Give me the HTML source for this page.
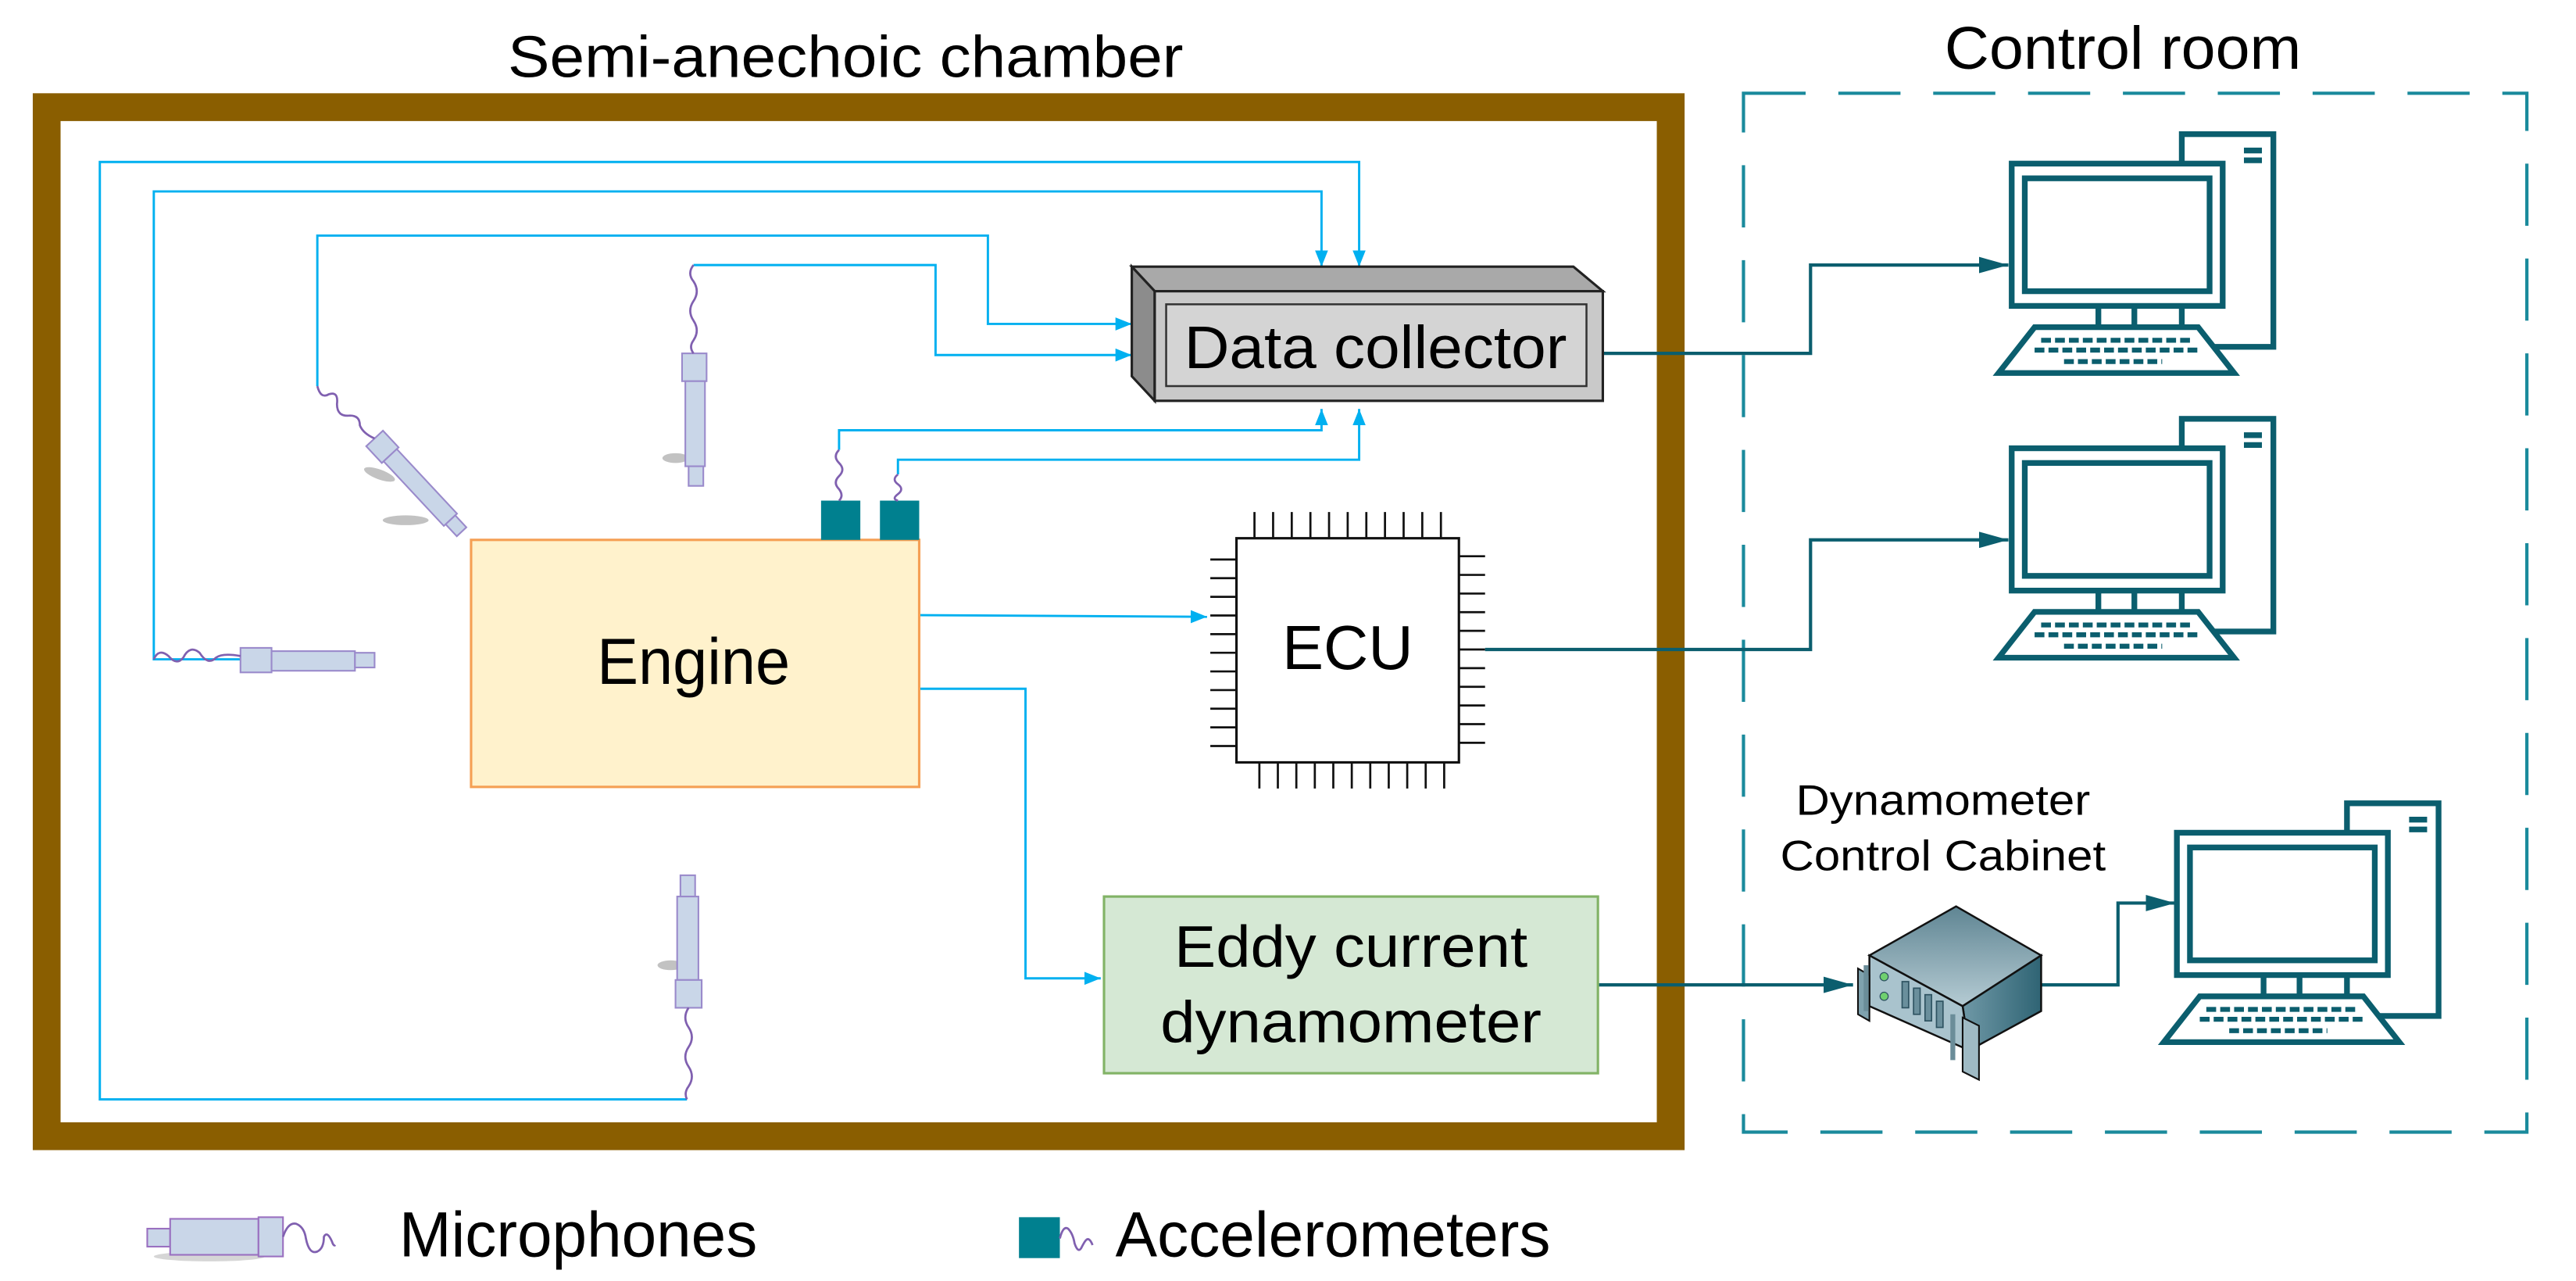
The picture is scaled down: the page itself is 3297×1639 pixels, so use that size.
<!DOCTYPE html>
<html><head><meta charset="utf-8"><style>
html,body{margin:0;padding:0;background:#fff;width:3297px;height:1639px;overflow:hidden}
svg{display:block}
text{font-family:"Liberation Sans",Arial,sans-serif;fill:#000}
</style></head><body>
<svg width="3297" height="1639" viewBox="0 0 1575 783" xmlns="http://www.w3.org/2000/svg">
<defs>
<marker id="ac" viewBox="0 0 10 8" refX="10" refY="4" markerWidth="10" markerHeight="8" markerUnits="userSpaceOnUse" orient="auto"><path d="M0 0L10 4L0 8z" fill="#00b0f0"/></marker>
<marker id="at" viewBox="0 0 18 10" refX="18" refY="5" markerWidth="18" markerHeight="10" markerUnits="userSpaceOnUse" orient="auto"><path d="M0 0L18 5L0 10z" fill="#0b5e6e"/></marker>
<linearGradient id="gtop" x1="0" y1="0" x2="0" y2="1"><stop offset="0" stop-color="#5f8593"/><stop offset="1" stop-color="#b5cbd3"/></linearGradient>
<linearGradient id="gright" x1="0" y1="0" x2="1" y2="0"><stop offset="0" stop-color="#6f98a6"/><stop offset="1" stop-color="#2f6474"/></linearGradient>
<g id="pc" fill="none" stroke="#0b5e6e" stroke-width="3.5">
<rect x="1334" y="82" width="56" height="130" fill="#fff"/>
<line x1="1372" y1="92" x2="1383" y2="92"/><line x1="1372" y1="98" x2="1383" y2="98"/>
<rect x="1230" y="100" width="129" height="87" fill="#fff"/>
<rect x="1238" y="109" width="113" height="69" fill="#fff"/>
<line x1="1283" y1="187" x2="1283" y2="200"/><line x1="1305" y1="187" x2="1305" y2="200"/>
<path d="M1244 200H1344L1366 228H1222Z" fill="#fff"/>
<path d="M1248 208H1340M1244 214H1344M1262 221H1322" stroke-width="3" stroke-dasharray="6 2.5"/>
</g>
</defs>

<!-- titles -->
<text x="517" y="47" font-size="36" text-anchor="middle" textLength="413" lengthAdjust="spacingAndGlyphs">Semi-anechoic chamber</text>
<text x="1298" y="42" font-size="37" text-anchor="middle" textLength="218" lengthAdjust="spacingAndGlyphs">Control room</text>

<!-- brown frame -->
<rect x="28.5" y="65.5" width="993" height="629" fill="none" stroke="#8a5e00" stroke-width="17"/>

<!-- dashed control room -->
<rect x="1066" y="57" width="479" height="635" fill="none" stroke="#1a8a9c" stroke-width="2" stroke-dasharray="38 20"/>

<!-- cyan lines -->
<g fill="none" stroke="#00b0f0" stroke-width="1.4">
<path d="M420 672H61V99H831V163" marker-end="url(#ac)"/>
<path d="M147 403H94V117H808V163" marker-end="url(#ac)"/>
<path d="M194 236V144H604V198H692" marker-end="url(#ac)"/>
<path d="M424 162H572V217H692" marker-end="url(#ac)"/>
<path d="M513 275V263H808V250" marker-end="url(#ac)"/>
<path d="M549 290V281H831V250" marker-end="url(#ac)"/>
<path d="M562 376L738 377" marker-end="url(#ac)"/>
<path d="M562 421H627V598H673" marker-end="url(#ac)"/>
</g>

<!-- teal lines -->
<g fill="none" stroke="#0b5e6e" stroke-width="2">
<path d="M980 216H1107V162H1228" marker-end="url(#at)"/>
<path d="M908 397H1107V330H1228" marker-end="url(#at)"/>
<path d="M977 602H1133" marker-end="url(#at)"/>
<path d="M1248 602H1295V552H1330" marker-end="url(#at)"/>
</g>

<!-- data collector -->
<polygon points="692,163 962,163 980,178 706,178" fill="#a9a9a9" stroke="#222" stroke-width="1.5"/>
<polygon points="692,163 706,178 706,245 692,230" fill="#8c8c8c" stroke="#222" stroke-width="1.5"/>
<rect x="706" y="178" width="274" height="67" fill="#c9c9c9" stroke="#222" stroke-width="1.5"/>
<rect x="713" y="186" width="257" height="50" fill="#d4d4d4" stroke="#333" stroke-width="1.2"/>
<text x="841" y="225" font-size="37" text-anchor="middle" textLength="234" lengthAdjust="spacingAndGlyphs">Data collector</text>

<!-- engine -->
<rect x="288" y="330" width="274" height="151" fill="#fff2cc" stroke="#f5a055" stroke-width="1.5"/>
<text x="424" y="418" font-size="40" text-anchor="middle" textLength="118" lengthAdjust="spacingAndGlyphs">Engine</text>
<rect x="502" y="306" width="24" height="24" fill="#00808f"/>
<rect x="538" y="306" width="24" height="24" fill="#00808f"/>
<g fill="none" stroke="#8060b0" stroke-width="1.3">
<path d="M513 275q-4 4 0 8q4 4 0 8q-4 4 0 8q3 4 0 7"/>
<path d="M549 290q-4 3 0 6q4 3 0 6q-4 3 0 4"/>
</g>

<!-- ECU -->
<g stroke="#111" stroke-width="1.3">
<path d="M767 313V329M778.4 313V329M789.8 313V329M801.2 313V329M812.6 313V329M824 313V329M835.4 313V329M846.8 313V329M858.2 313V329M869.6 313V329M881 313V329"/>
<path d="M770 466V482M781.3 466V482M792.6 466V482M803.9 466V482M815.2 466V482M826.5 466V482M837.8 466V482M849.1 466V482M860.4 466V482M871.7 466V482M883 466V482"/>
<path d="M740 342H756M740 353.4H756M740 364.8H756M740 376.2H756M740 387.6H756M740 399H756M740 410.4H756M740 421.8H756M740 433.2H756M740 444.6H756M740 456H756"/>
<path d="M892 340H908M892 351.4H908M892 362.8H908M892 374.2H908M892 385.6H908M892 397H908M892 408.4H908M892 419.8H908M892 431.2H908M892 442.6H908M892 454H908"/>
</g>
<rect x="756" y="329" width="136" height="137" fill="#fff" stroke="#111" stroke-width="1.5"/>
<text x="824" y="409" font-size="38" text-anchor="middle" textLength="80" lengthAdjust="spacingAndGlyphs">ECU</text>

<!-- eddy -->
<rect x="675" y="548" width="302" height="108" fill="#d5e8d4" stroke="#82b366" stroke-width="1.5"/>
<text x="826" y="591" font-size="36" text-anchor="middle" textLength="216" lengthAdjust="spacingAndGlyphs">Eddy current</text>
<text x="826" y="637" font-size="36" text-anchor="middle" textLength="233" lengthAdjust="spacingAndGlyphs">dynamometer</text>

<!-- microphones -->
<g fill="#c9d6e8" stroke="#9a8acb" stroke-width="1">
<!-- top vertical -->
<ellipse cx="413" cy="280" rx="8" ry="3" fill="#999" stroke="none" opacity="0.6"/>
<rect x="417" y="216" width="15" height="17"/><rect x="419" y="233" width="12" height="52"/><rect x="421" y="285" width="9" height="12"/>
<!-- bottom vertical -->
<ellipse cx="410" cy="590" rx="8" ry="3" fill="#999" stroke="none" opacity="0.6"/>
<rect x="416" y="535" width="9" height="13"/><rect x="414" y="548" width="13" height="51"/><rect x="413" y="599" width="16" height="17"/>
<!-- left horizontal -->
<rect x="147" y="396" width="19" height="15"/><rect x="166" y="398" width="51" height="12"/><rect x="217" y="399" width="12" height="9"/>
<!-- diagonal -->
<ellipse cx="248" cy="318" rx="14" ry="3" fill="#999" stroke="none" opacity="0.6"/>
<ellipse cx="232" cy="290" rx="10" ry="3" fill="#999" stroke="none" opacity="0.6" transform="rotate(20 232 290)"/>
<g transform="translate(229 268) rotate(47)">
<rect x="0" y="-7" width="14" height="14"/><rect x="14" y="-5.5" width="54" height="11"/><rect x="68" y="-4" width="10" height="8"/>
</g>
</g>
<g fill="none" stroke="#8060b0" stroke-width="1.3">
<path d="M424 162q-4 5 0 10q4 6 0 12q-4 6 0 12q4 6 0 12q-3 4 0 8"/>
<path d="M421 616q-4 6 0 12q4 6 0 12q-4 6 0 12q4 6 0 12q-3 4 -1 8"/>
<path d="M94 403q3 -7 9 -2q5 6 9 1q4 -8 10 -3q5 8 10 3q4 -3 15 -1"/>
<path d="M194 236q2 8 7 5q6 -2 5 6q0 8 8 7q6 0 6 6q2 5 9 8"/>
</g>

<!-- computers -->
<use href="#pc"/>
<use href="#pc" transform="translate(0 174)"/>
<use href="#pc" transform="translate(101 409)"/>

<!-- cabinet -->
<text x="1188" y="498" font-size="26" text-anchor="middle" textLength="180" lengthAdjust="spacingAndGlyphs">Dynamometer</text>
<text x="1188" y="532" font-size="26" text-anchor="middle" textLength="199" lengthAdjust="spacingAndGlyphs">Control Cabinet</text>
<polygon points="1143,584 1196,554 1248,584 1200,615" fill="url(#gtop)" stroke="#111" stroke-width="1.2"/>
<polygon points="1200,615 1248,584 1248,618 1204,642" fill="url(#gright)" stroke="#111" stroke-width="1.2"/>
<polygon points="1143,584 1200,615 1204,642 1143,615" fill="#a9c3cd" stroke="#111" stroke-width="1.2"/>
<polygon points="1136,592 1143,596 1143,624 1136,620" fill="#7fa2ae" stroke="#111" stroke-width="1"/>
<polygon points="1200,622 1210,627 1210,660 1200,655" fill="#9fbac4" stroke="#111" stroke-width="1"/>
<g fill="#6a8f9c" stroke="#2e5361" stroke-width="0.8">
<rect x="1163" y="600" width="4" height="16"/><rect x="1170" y="604" width="4" height="16"/><rect x="1177" y="608" width="4" height="16"/><rect x="1184" y="612" width="4" height="16"/>
</g>
<circle cx="1152" cy="597" r="2.5" fill="#6fd06f" stroke="#2e5361" stroke-width="0.6"/>
<circle cx="1152" cy="609" r="2.5" fill="#6fd06f" stroke="#2e5361" stroke-width="0.6"/>
<path d="M1141 590V618M1194 620V648" stroke="#6b8d99" stroke-width="3" fill="none"/>

<!-- legend -->
<g fill="#c9d6e8" stroke="#9a70c0" stroke-width="1">
<ellipse cx="128" cy="768" rx="34" ry="3" fill="#bbb" stroke="none" opacity="0.6"/>
<rect x="90" y="751" width="14" height="11"/><rect x="104" y="745" width="54" height="22"/><rect x="158" y="744" width="15" height="24"/>
</g>
<path d="M173 756q3 -9 8 -8q5 2 6 9q2 10 7 8q4 -2 4 -9q2 -4 5 3q1 3 2 2" fill="none" stroke="#8060b0" stroke-width="1.3"/>
<text x="244" y="768" font-size="39" textLength="219" lengthAdjust="spacingAndGlyphs">Microphones</text>
<rect x="623" y="744" width="25" height="25" fill="#00808f"/>
<path d="M648 757q2 -8 5 -6q3 3 4 9q2 6 4 3q2 -4 3 -5q2 -2 4 3" fill="none" stroke="#8060b0" stroke-width="1.3"/>
<text x="682" y="768" font-size="39" textLength="266" lengthAdjust="spacingAndGlyphs">Accelerometers</text>
</svg>
</body></html>
